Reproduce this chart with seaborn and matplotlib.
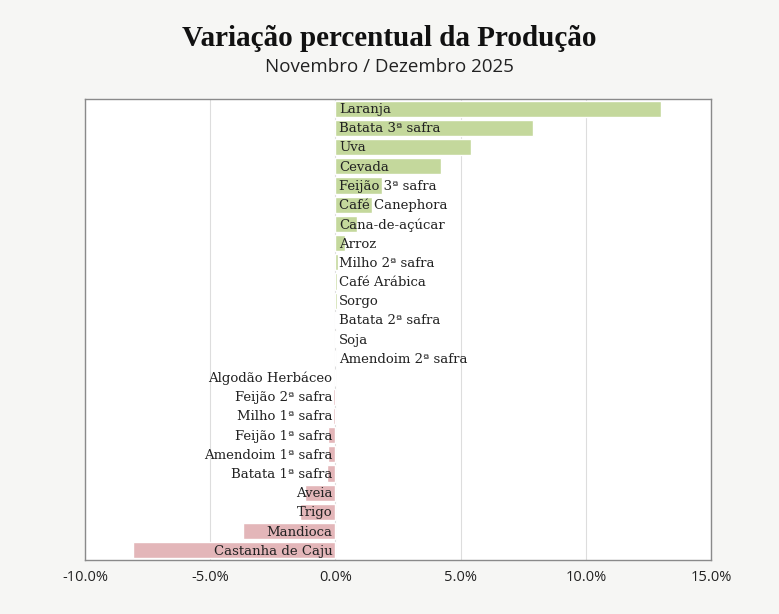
import matplotlib.pyplot as plt
import pandas as pd
import seaborn as sns

# Dados (variação %, Nov/Dez 2025)
culturas = [
    "Laranja", "Batata 3ª safra", "Uva", "Cevada", "Feijão 3ª safra",
    "Café Canephora", "Cana-de-açúcar", "Arroz", "Milho 2ª safra",
    "Café Arábica", "Sorgo", "Batata 2ª safra", "Soja", "Amendoim 2ª safra",
    "Algodão Herbáceo", "Feijão 2ª safra", "Milho 1ª safra", "Feijão 1ª safra",
    "Amendoim 1ª safra", "Batata 1ª safra", "Aveia", "Trigo", "Mandioca",
    "Castanha de Caju",
]
variacao = [
    13.0, 7.9, 5.4, 4.2, 1.85,
    1.45, 0.85, 0.4, 0.1,
    0.06, 0.05, 0.03, 0.02, 0.0,
    -0.01, -0.1, -0.1, -0.3,
    -0.3, -0.35, -1.2, -1.4, -3.7,
    -8.1,
]
ticks = [-10, -5, 0, 5, 10, 15]

df = pd.DataFrame({"cultura": culturas, "valor": variacao})
df["sinal"] = ["pos" if v > 0 or c == "Amendoim 2ª safra" else "neg"
               for c, v in zip(df["cultura"], df["valor"])]

sns.set_style("white")
plt.rcParams["font.family"] = ["Open Sans", "DejaVu Sans"]

fig = plt.figure(figsize=(7.79, 6.14), dpi=100, facecolor="#f6f6f4")
ax = fig.add_axes([85 / 779, 1 - 560 / 614, 626 / 779, 461 / 614])
ax.set_facecolor("white")

sns.barplot(data=df, x="valor", y="cultura", hue="sinal",
            palette={"pos": "#c4d89c", "neg": "#e3b6b9"},
            dodge=False, legend=False, width=0.84, saturation=1, ax=ax)

# Rótulos dentro do gráfico
for i, (c, v, s) in enumerate(zip(df["cultura"], df["valor"], df["sinal"])):
    if s == "pos":
        ax.text(0.15, i + 0.05, c, ha="left", va="center", family="DejaVu Serif",
                fontsize=9.5, color="#222222")
    else:
        ax.text(-0.12, i + 0.05, c, ha="right", va="center", family="DejaVu Serif",
                fontsize=9.5, color="#222222")

ax.set_xlim(-10, 15)
ax.set_xticks(ticks)
ax.set_xticklabels([f"{t:.1f}%" for t in ticks], fontsize=10.5, color="#222222")
ax.tick_params(axis="x", length=0, pad=7)
ax.set_yticks([])
ax.set_xlabel("")
ax.set_ylabel("")
ax.grid(axis="x", color="#dddddd", linewidth=0.8)
ax.set_axisbelow(True)
for sp in ax.spines.values():
    sp.set_color("#8a8a8a")
    sp.set_linewidth(1)

fig.text(0.5, 1 - 39 / 614, "Variação percentual da Produção", ha="center",
         va="center", family="Liberation Serif", fontweight="bold", fontsize=21,
         color="#111111")
fig.text(0.5, 1 - 67 / 614, "Novembro / Dezembro 2025", ha="center",
         va="center", fontsize=13.5, color="#222222")

plt.savefig("out.png", dpi=100, facecolor=fig.get_facecolor())
